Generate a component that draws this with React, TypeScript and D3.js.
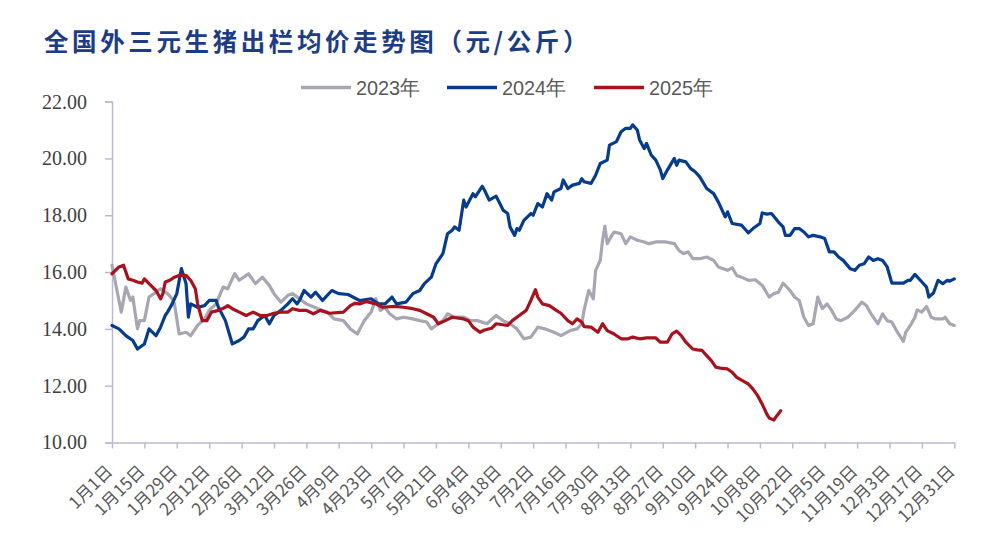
import React, { useEffect, useRef } from 'react';
import * as d3 from 'd3';

// x labels, one every 14 days starting Jan 1
const tickLabels = [
  '1月1日', '1月15日', '1月29日', '2月12日', '2月26日', '3月12日', '3月26日',
  '4月9日', '4月23日', '5月7日', '5月21日', '6月4日', '6月18日', '7月2日',
  '7月16日', '7月30日', '8月13日', '8月27日', '9月10日', '9月24日', '10月8日',
  '10月22日', '11月5日', '11月19日', '12月3日', '12月17日', '12月31日',
];
const yTicks = [10, 12, 14, 16, 18, 20, 22];

// [day of year (0 = Jan 1), price 元/公斤]
const price2023: [number, number][] = [
  [0, 16.24], [4, 14.59], [6, 15.47], [8, 15.0], [9, 15.12], [11, 14.0], [12, 14.29], [14, 14.29],
  [16, 15.12], [19, 15.29], [21, 15.41], [24, 15.24], [26, 15.06], [27, 14.88], [29, 13.82], [32, 13.88],
  [34, 13.76], [37, 14.12], [40, 14.35], [42, 14.65], [45, 14.88], [48, 15.47], [50, 15.41], [53, 15.94],
  [55, 15.71], [59, 15.94], [62, 15.59], [65, 15.82], [68, 15.53], [70, 15.24], [73, 14.94], [76, 15.18],
  [78, 15.24], [81, 15.06], [84, 14.88], [89, 14.71], [93, 14.59], [96, 14.35], [100, 14.29], [103, 14.0],
  [106, 13.82], [109, 14.29], [112, 14.59], [114, 15.06], [116, 14.65], [118, 14.76], [120, 14.53], [123, 14.35],
  [126, 14.41], [130, 14.35], [133, 14.29], [136, 14.24], [138, 14.0], [140, 14.12], [143, 14.29], [145, 14.53],
  [148, 14.41], [152, 14.41], [155, 14.29], [158, 14.29], [162, 14.18], [166, 14.47], [169, 14.29], [172, 14.18],
  [175, 14.0], [178, 13.65], [181, 13.71], [183, 13.94], [184, 14.06], [187, 14.0], [191, 13.88], [194, 13.76],
  [198, 13.94], [201, 14.0], [203, 14.18], [204, 14.65], [206, 15.35], [208, 15.06], [209, 16.06], [211, 16.41],
  [212, 17.12], [213, 17.61], [214, 17.0], [216, 17.29], [217, 17.41], [220, 17.35], [222, 17.0], [224, 17.24],
  [227, 17.12], [230, 17.06], [232, 17.0], [235, 17.06], [239, 17.06], [243, 17.0], [245, 16.76], [247, 16.65],
  [249, 16.71], [251, 16.47], [254, 16.47], [257, 16.53], [260, 16.41], [262, 16.18], [266, 16.06], [268, 16.15],
  [270, 15.88], [272, 15.82], [275, 15.71], [278, 15.73], [281, 15.53], [284, 15.12], [286, 15.24], [288, 15.29],
  [290, 15.61], [293, 15.35], [295, 15.12], [297, 15.0], [299, 14.41], [301, 14.12], [303, 14.18], [305, 15.12],
  [307, 14.71], [309, 14.88], [311, 14.65], [313, 14.35], [315, 14.29], [318, 14.41], [321, 14.65], [324, 14.94],
  [326, 14.82], [328, 14.53], [331, 14.18], [333, 14.53], [335, 14.29], [337, 14.24], [339, 13.94], [342, 13.56],
  [343, 13.88], [345, 14.12], [347, 14.41], [348, 14.67], [350, 14.59], [352, 14.79], [354, 14.41], [356, 14.35],
  [359, 14.35], [360, 14.41], [362, 14.18], [364, 14.12],
];

const price2024: [number, number][] = [
  [0, 14.12], [3, 14.0], [6, 13.76], [9, 13.59], [11, 13.29], [14, 13.47], [16, 14.0], [19, 13.76],
  [21, 14.06], [23, 14.47], [24, 14.59], [26, 14.88], [28, 15.24], [30, 16.12], [32, 15.59], [33, 14.41],
  [34, 14.88], [37, 14.76], [40, 14.82], [42, 15.0], [45, 15.0], [46, 14.76], [49, 14.29], [52, 13.47],
  [55, 13.59], [57, 13.71], [59, 14.0], [61, 14.0], [63, 14.29], [66, 14.47], [68, 14.18], [70, 14.47],
  [73, 14.65], [76, 14.88], [78, 15.06], [80, 14.88], [81, 15.0], [83, 15.35], [86, 15.12], [88, 15.29],
  [91, 15.0], [95, 15.35], [98, 15.24], [102, 15.21], [107, 15.0], [112, 15.06], [115, 14.88], [118, 14.88],
  [121, 15.12], [123, 14.88], [127, 14.94], [130, 15.24], [133, 15.35], [135, 15.59], [138, 15.82], [140, 16.29],
  [143, 16.65], [145, 17.35], [147, 17.47], [148, 17.59], [150, 17.47], [152, 18.53], [153, 18.29], [156, 18.76],
  [157, 18.65], [160, 19.02], [161, 18.88], [163, 18.53], [166, 18.67], [168, 18.35], [169, 18.18], [171, 18.06],
  [172, 17.59], [174, 17.29], [175, 17.53], [176, 17.47], [178, 17.82], [181, 18.06], [182, 18.0], [184, 18.41],
  [186, 18.29], [188, 18.76], [190, 18.53], [191, 18.82], [194, 18.94], [195, 19.24], [197, 18.94], [199, 19.06],
  [202, 19.12], [203, 19.29], [204, 19.18], [207, 19.12], [209, 19.41], [211, 19.82], [214, 19.94], [215, 20.47],
  [218, 20.59], [220, 20.94], [222, 21.06], [224, 21.06], [225, 21.18], [227, 21.0], [228, 20.65], [230, 20.35],
  [231, 20.53], [233, 20.12], [235, 19.94], [237, 19.59], [238, 19.29], [240, 19.59], [243, 20.0], [244, 19.76],
  [245, 19.94], [248, 19.88], [250, 19.65], [252, 19.53], [254, 19.35], [257, 18.94], [260, 18.76], [262, 18.47],
  [265, 17.94], [266, 18.12], [268, 17.71], [272, 17.65], [274, 17.47], [275, 17.38], [277, 17.53], [280, 17.71],
  [281, 18.08], [283, 18.04], [285, 18.06], [288, 17.76], [290, 17.59], [291, 17.29], [293, 17.29], [295, 17.53],
  [297, 17.53], [299, 17.41], [301, 17.24], [303, 17.29], [306, 17.24], [308, 17.18], [310, 16.71], [312, 16.71],
  [314, 16.53], [316, 16.41], [319, 16.12], [321, 16.06], [323, 16.24], [325, 16.29], [327, 16.53], [329, 16.41],
  [331, 16.47], [333, 16.41], [335, 16.18], [337, 15.61], [339, 15.61], [342, 15.61], [344, 15.71], [345, 15.71],
  [347, 15.92], [350, 15.65], [352, 15.47], [353, 15.12], [355, 15.26], [357, 15.71], [359, 15.59], [361, 15.71],
  [362, 15.68], [364, 15.76],
];

const price2025: [number, number][] = [
  [0, 15.94], [3, 16.18], [5, 16.24], [7, 15.76], [9, 15.71], [11, 15.65], [13, 15.61], [14, 15.76],
  [16, 15.59], [19, 15.35], [21, 15.06], [22, 15.24], [23, 15.65], [25, 15.71], [27, 15.82], [29, 15.88],
  [32, 15.88], [34, 15.71], [36, 15.41], [37, 14.88], [39, 14.29], [41, 14.29], [43, 14.59], [46, 14.65],
  [49, 14.76], [50, 14.82], [52, 14.71], [55, 14.59], [58, 14.47], [61, 14.59], [64, 14.47], [67, 14.47],
  [70, 14.55], [73, 14.59], [76, 14.59], [78, 14.71], [81, 14.65], [84, 14.65], [87, 14.53], [90, 14.65],
  [94, 14.55], [100, 14.59], [103, 14.82], [105, 14.9], [107, 14.88], [110, 14.96], [114, 14.88], [117, 14.76],
  [122, 14.79], [126, 14.76], [130, 14.71], [133, 14.65], [136, 14.53], [139, 14.41], [141, 14.18], [144, 14.29],
  [147, 14.41], [152, 14.35], [154, 14.29], [156, 14.06], [159, 13.88], [161, 13.96], [164, 14.02], [166, 14.18],
  [171, 14.12], [173, 14.29], [176, 14.47], [179, 14.65], [181, 15.0], [183, 15.38], [184, 15.12], [186, 14.88],
  [189, 14.82], [192, 14.65], [194, 14.55], [197, 14.29], [199, 14.18], [201, 14.35], [203, 14.24], [204, 14.08],
  [207, 14.06], [210, 13.88], [212, 14.18], [214, 13.94], [217, 13.82], [220, 13.65], [223, 13.65], [225, 13.71],
  [228, 13.65], [231, 13.68], [235, 13.68], [237, 13.53], [240, 13.53], [242, 13.82], [244, 13.92], [246, 13.76],
  [248, 13.53], [251, 13.29], [253, 13.26], [255, 13.24], [257, 13.06], [259, 12.88], [261, 12.65], [263, 12.62],
  [266, 12.59], [268, 12.47], [270, 12.29], [273, 12.15], [275, 12.06], [277, 11.88], [279, 11.65], [281, 11.35],
  [283, 11.0], [284, 10.86], [286, 10.79], [287, 10.91], [289, 11.12],
];

const series = [
  { name: '2023年', color: '#a7a6b3', data: price2023 },
  { name: '2024年', color: '#063c8c', data: price2024 },
  { name: '2025年', color: '#a8121e', data: price2025 },
];

export default () => {
  const svgRef = useRef<SVGSVGElement>(null);

  useEffect(() => {
    if (!svgRef.current) {
      return;
    }
    const svg = d3.select(svgRef.current);
    svg.selectAll('*').remove();

    const x = d3.scaleLinear().domain([0, 364]).range([112, 954.3]);
    const y = d3.scaleLinear().domain([10, 22]).range([442.5, 101.6]);
    const axisColor = '#bdb8d6';

    // title
    svg.append('text')
      .attr('x', 44)
      .attr('y', 51)
      .attr('font-family', '"Noto Sans CJK SC", sans-serif')
      .attr('font-weight', 'bold')
      .attr('font-size', 24.5)
      .attr('letter-spacing', 3.6)
      .attr('fill', '#1c3d85')
      .text('全国外三元生猪出栏均价走势图（元/公斤）');

    // legend
    const legendX = [301, 447, 594];
    series.forEach((s, i) => {
      const g = svg.append('g').attr('transform', `translate(${legendX[i]}, 87.5)`);
      g.append('line')
        .attr('x1', 0).attr('x2', 50)
        .attr('stroke', s.color)
        .attr('stroke-width', 3.5);
      g.append('text')
        .attr('x', 55)
        .attr('y', 7.5)
        .attr('font-family', '"Liberation Sans Narrow", "Liberation Sans", sans-serif')
        .attr('font-size', 21)
        .attr('textLength', 64)
        .attr('lengthAdjust', 'spacingAndGlyphs')
        .attr('fill', '#595959')
        .text(s.name);
    });

    // y axis
    const yAxis = d3.axisLeft(y)
      .tickValues(yTicks)
      .tickSize(7)
      .tickPadding(18)
      .tickFormat(d3.format('.2f'));
    const yg = svg.append('g').attr('transform', 'translate(112, 0)').call(yAxis);
    yg.select('.domain').attr('stroke', axisColor).attr('stroke-width', 1.5);
    yg.selectAll('.tick line').attr('stroke', axisColor).attr('stroke-width', 1.5);
    yg.selectAll('.tick text')
      .attr('font-family', '"Liberation Serif", "Times New Roman", serif')
      .attr('font-size', 20)
      .attr('fill', '#404040');

    // x axis
    const tickDays = tickLabels.map((_, i) => i * 14);
    const xAxis = d3.axisBottom(x)
      .tickValues(tickDays)
      .tickSize(6)
      .tickSizeOuter(0)
      .tickFormat((d, i) => tickLabels[i]);
    const xg = svg.append('g').attr('transform', `translate(0, ${y(10)})`).call(xAxis);
    xg.select('.domain').attr('stroke', axisColor).attr('stroke-width', 1.5);
    xg.selectAll('.tick line').attr('stroke', axisColor).attr('stroke-width', 1.5);
    xg.selectAll('.tick text')
      .attr('y', 0)
      .attr('dy', 0)
      .attr('text-anchor', 'end')
      .attr('transform', 'translate(1, 30) rotate(-45)')
      .attr('font-family', '"Noto Sans CJK SC", sans-serif')
      .attr('font-size', 17)
      .attr('fill', '#595959');

    // lines
    const line = d3.line<[number, number]>()
      .x(d => x(d[0]))
      .y(d => y(d[1]));

    series.forEach(s => {
      svg.append('path')
        .datum(s.data)
        .attr('fill', 'none')
        .attr('stroke', s.color)
        .attr('stroke-width', 3.2)
        .attr('stroke-linejoin', 'round')
        .attr('stroke-linecap', 'round')
        .attr('d', line);
    });
  }, []);

  return (
    <svg
      ref={svgRef}
      width={984}
      height={554}
      style={{ position: 'absolute', left: 0, top: 0, background: '#fff' }}
    />
  );
};
